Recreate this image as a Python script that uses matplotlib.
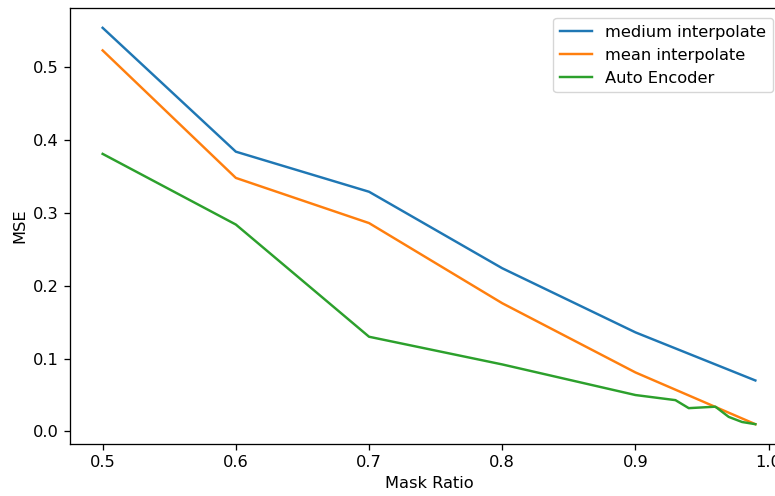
import numpy as np
import matplotlib as mpl
mpl.use('Agg')
from matplotlib import pyplot as plt

# mask ratios and MSE values
ratio = [0.5, 0.6, 0.7, 0.8, 0.9, 0.99]
medium_mse = [0.554, 0.384, 0.329, 0.224, 0.136, 0.070]
mean_mse = [0.523, 0.348, 0.286, 0.176, 0.081, 0.010]

ae_ratio = [0.5, 0.6, 0.7, 0.8, 0.9, 0.93, 0.94, 0.96, 0.97, 0.98, 0.99]
ae_mse = [0.381, 0.284, 0.130, 0.092, 0.050, 0.043, 0.032, 0.034, 0.020, 0.013, 0.010]

# reference looks like a default plot rendered ~1.17x larger
s = 1.17
plt.rcParams.update( {
    'font.size' : 10 * s ,
    'lines.linewidth' : 1.5 * s ,
    'axes.linewidth' : 0.8 * s ,
    'xtick.major.width' : 0.8 * s ,
    'ytick.major.width' : 0.8 * s ,
    'xtick.major.size' : 3.5 * s ,
    'ytick.major.size' : 3.5 * s ,
    'xtick.major.pad' : 3.5 * s ,
    'ytick.major.pad' : 3.5 * s ,
} )

f = plt.figure( figsize = ( 7.75 , 4.96 ) , dpi = 100 )
# the reference is cropped on the right, so the axes run past the figure edge
ax = f.add_axes( [ 70 / 775 , 52 / 496 , 718 / 775 , 436 / 496 ] )

ax.plot( ratio , medium_mse , label = 'medium interpolate' )
ax.plot( ratio , mean_mse , label = 'mean interpolate' )
ax.plot( ae_ratio , ae_mse , label = 'Auto Encoder' )

ax.set_xlabel( 'Mask Ratio' )
ax.set_ylabel( 'MSE' )
ax.legend( loc = 'upper right' , bbox_to_anchor = ( 781 / 775 , 1 - 10 / 496 ) ,
           bbox_transform = f.transFigure )

f.savefig( 'out.png' , dpi = 100 )
